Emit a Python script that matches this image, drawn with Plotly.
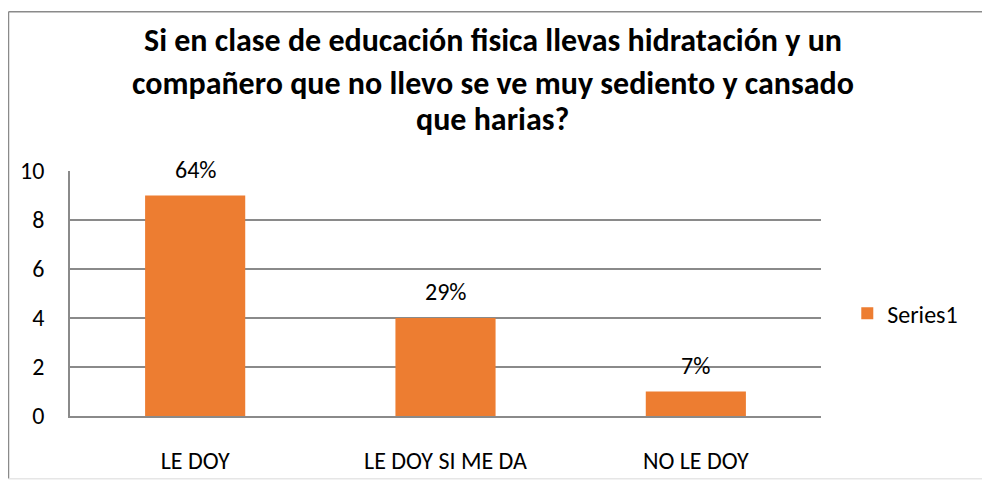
import plotly.graph_objects as go

# datos
categorias = ['LE DOY', 'LE DOY SI ME DA', 'NO LE DOY']
valores = [9, 4, 1]
etiquetas = ['64%', '29%', '7%']
titulo = ['Si en clase de educación fisica llevas hidratación y un',
          'compañero que no llevo se ve muy sediento y cansado',
          'que harias?']
ticks_y = [0, 2, 4, 6, 8, 10]

fuente = 'Carlito, Lato, sans-serif'
gris = '#8a8a8a'

fig = go.Figure()

fig.add_trace(go.Bar(
    x=categorias,
    y=valores,
    marker=dict(color='#ED7D31', line=dict(width=0)),
    name='Series1',
    showlegend=True
))

# etiquetas de datos sobre cada barra
for cat, val, et in zip(categorias, valores, etiquetas):
    fig.add_annotation(
        x=cat, y=val, yanchor='bottom', yshift=10,
        text=et, showarrow=False,
        font=dict(size=24, family=fuente, color='#000000')
    )

fig.update_layout(
    width=982,
    height=479,
    margin=dict(l=62, r=169, t=163, b=66),
    paper_bgcolor='white',
    plot_bgcolor='white',
    bargap=0.6,
    font=dict(family=fuente, size=24, color='#000000'),
    showlegend=True,
    legend=dict(
        x=1.035, y=0.418, xanchor='left', yanchor='middle',
        font=dict(size=24, family=fuente),
        bgcolor='rgba(0,0,0,0)'
    )
)

fig.update_yaxes(
    range=[0, 10],
    tickvals=ticks_y,
    showgrid=True, gridcolor=gris, gridwidth=1.5,
    showline=True, linecolor=gris, linewidth=1.5,
    zeroline=False,
    ticks='', ticklabelstandoff=19,
    tickfont=dict(size=24, family=fuente)
)
fig.update_xaxes(
    showline=True, linecolor=gris, linewidth=1.5,
    ticks='', ticklabelstandoff=22,
    tickfont=dict(size=24, family=fuente)
)

# titulo en tres lineas
posiciones = [1.532, 1.358, 1.21]
for linea, yy in zip(titulo, posiciones):
    fig.add_annotation(
        x=0.563, xref='paper', xanchor='center',
        y=yy, yref='paper', yanchor='middle',
        text='<b>' + linea + '</b>',
        showarrow=False,
        font=dict(size=32, family=fuente, color='#000000')
    )

# borde del area del grafico
fig.add_shape(type='line', xref='paper', yref='paper',
              x0=-0.0819, x1=-0.0819, y0=-0.256, y1=1.65,
              line=dict(color=gris, width=1.5))
fig.add_shape(type='line', xref='paper', yref='paper',
              x0=-0.0819, x1=1.2197, y0=1.65, y1=1.65,
              line=dict(color=gris, width=1.5))
fig.add_shape(type='line', xref='paper', yref='paper',
              x0=1.2197, x1=1.2197, y0=-0.256, y1=1.65,
              line=dict(color=gris, width=1.5))
fig.add_shape(type='line', xref='paper', yref='paper',
              x0=-0.0819, x1=1.2197, y0=-0.256, y1=-0.256,
              line=dict(color='#e6e6e6', width=1.5))

fig.write_html('out.html')
